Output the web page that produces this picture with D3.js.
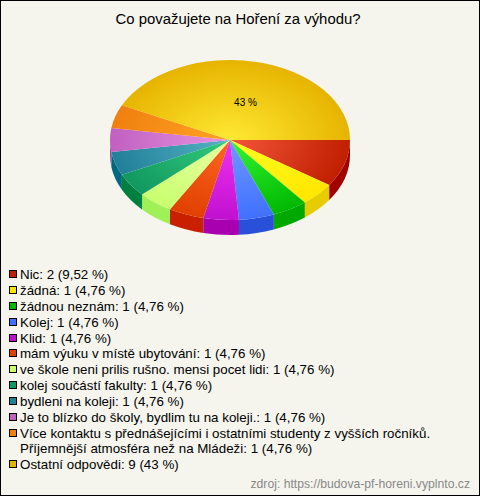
<!DOCTYPE html>
<html><head><meta charset="utf-8">
<script src="https://cdn.jsdelivr.net/npm/d3@7/dist/d3.min.js"></script>
<style>html,body{margin:0;padding:0;background:#f5f5ee}svg{display:block}</style>
</head><body><svg id="c" width="480" height="496"></svg>
<script>
const title = "Co považujete na Hoření za výhodu?";
const source = "zdroj: https://budova-pf-horeni.vyplnto.cz";
const categories = ["Nic","žádná","žádnou neznám","Kolej","Klid","mám výuku v místě ubytování","ve škole neni prilis rušno. mensi pocet lidi","kolej součástí fakulty","bydleni na koleji","Je to blízko do školy, bydlim tu na koleji.","Více kontaktu s přednášejícími i ostatními studenty z vyšších ročníků.|Příjemnější atmosféra než na Mládeži","Ostatní odpovědi"];
const values = [2,1,1,1,1,1,1,1,1,1,1,9];
const percents = ["9,52 %","4,76 %","4,76 %","4,76 %","4,76 %","4,76 %","4,76 %","4,76 %","4,76 %","4,76 %","4,76 %","43 %"];
const inner = ["#f4553a","#ffff22","#33f533","#7099ff","#f033f0","#ff6622","#e8ffa0","#33cc7a","#55b3c4","#e993e3","#ffa322","#ffe933"];
const outer = ["#c02000","#ffe600","#00b800","#4070ff","#c010d0","#e04000","#c8ff70","#109860","#208098","#c060c0","#f08010","#e6b400"];
const sides = ["#a00000","#e6cc00","#00a800","#2850d8","#a800b0","#c82000","#a0f058","#008040","#006880","#a04898","#d06800","#c89800"];
const swatch = ["#c02000","#ffe600","#00b800","#4070ff","#c010d0","#e04000","#c8ff70","#109860","#208098","#c060c0","#f08010","#e6b400"];

const W=480,H=496,cx=230,cy=140,rx=120,ry=80,depth=15;
const svg=d3.select("#c");
const font="'Liberation Sans',Arial,sans-serif";
svg.append("rect").attr("x",.5).attr("y",.5).attr("width",W-1).attr("height",H-1).attr("fill","#f5f5ee").attr("stroke","#000");
svg.append("text").attr("x",238).attr("y",24).attr("text-anchor","middle").attr("font-family",font).attr("font-size",14.9).attr("fill","#000").text(title);

const pie=d3.pie().sort(null).value(d=>d).startAngle(Math.PI/2).endAngle(Math.PI/2+2*Math.PI);
const arcs=pie(values);
const arc=d3.arc().innerRadius(0).outerRadius(rx);
const defs=svg.append("defs");
arcs.forEach((a,i)=>{
  const g=defs.append("radialGradient").attr("id","g"+i).attr("gradientUnits","userSpaceOnUse").attr("cx",0).attr("cy",0).attr("r",rx);
  g.append("stop").attr("offset",0).attr("stop-color",inner[i]);
  g.append("stop").attr("offset",1).attr("stop-color",outer[i]);
});
const px=t=>cx+rx*Math.sin(t), py=t=>cy-ry*Math.cos(t);
arcs.forEach((a,i)=>{
  const s=Math.max(a.startAngle,Math.PI/2), e=Math.min(a.endAngle,Math.PI*1.5);
  if(e<=s) return;
  const p=`M${px(s)},${py(s)}A${rx},${ry} 0 0 1 ${px(e)},${py(e)}L${px(e)},${py(e)+depth}A${rx},${ry} 0 0 0 ${px(s)},${py(s)+depth}Z`;
  svg.append("path").attr("d",p).attr("fill",sides[i]);
});
const topG=svg.append("g").attr("transform",`translate(${cx},${cy}) scale(1,${ry/rx})`);
topG.selectAll("path").data(arcs).join("path").attr("d",arc).attr("fill",(d,i)=>`url(#g${i})`);
svg.append("text").attr("x",245.5).attr("y",106).attr("text-anchor","middle").attr("font-family",font).attr("font-size",10).attr("fill","#000").text(percents[11]);

let y=279;
const lg=svg.append("g").attr("font-family",font).attr("font-size",13.35).attr("fill","#000");
categories.forEach((c,i)=>{
  const b=Math.round(y);
  lg.append("rect").attr("x",9.5).attr("y",b-8.5).attr("width",7).attr("height",7).attr("fill",swatch[i]).attr("stroke","#000");
  const lines=c.split("|");
  const label=`${values[i]} (${percents[i]})`;
  lines.forEach((l,j)=>{
    const t=(j===lines.length-1)?`${l}: ${label}`:l;
    lg.append("text").attr("x",20).attr("y",Math.round(y+j*15.5)).text(t);
  });
  y+=15.9+(lines.length-1)*15.5;
});
svg.append("text").attr("x",470).attr("y",488).attr("text-anchor","end").attr("font-family",font).attr("font-size",12.2).attr("fill","#888").text(source);
</script></body></html>
